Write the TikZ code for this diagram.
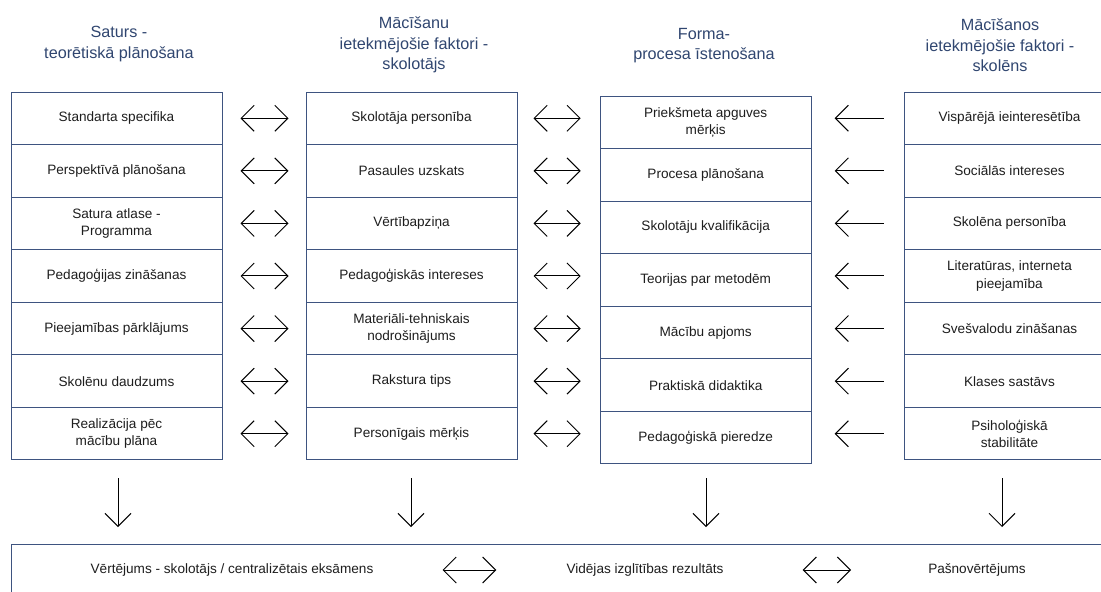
\documentclass[tikz,border=0pt]{standalone}
\usepackage{fontspec}
\setmainfont{Liberation Sans}
\usetikzlibrary{arrows.meta}
\definecolor{boxline}{RGB}{62,84,128}
\definecolor{headblue}{RGB}{48,70,112}
\definecolor{txt}{RGB}{30,30,30}
\tikzset{
  rowcell/.style={draw=boxline, line width=1pt, minimum width=211pt,
    minimum height=52.57pt, inner sep=2pt, align=center, text=txt,
    font=\fontsize{13.6}{17.5}\selectfont},
  colhead/.style={align=center, text=headblue, font=\fontsize{16.2}{20.5}\selectfont},
  basetext/.style={inner sep=0pt, text=txt, font=\fontsize{13.6}{17}\selectfont},
  barb/.tip={Straight Barb[length=13pt,width=26pt,line width=1pt]},
  bothway/.style={arrows={barb-barb}, line width=1pt},
  oneway/.style={arrows={-barb}, line width=1pt},
}
\begin{document}
\begin{tikzpicture}[x=1pt,y=-1pt]
\useasboundingbox (0,0) rectangle (1101,592);
\clip (0,0) rectangle (1101,592);
\fill[white] (0,0) rectangle (1101,592);

% column headings
\node[colhead] (h1) at (119,44) {Saturs -\\teorētiskā plānošana};
\node[colhead] (h2) at (414,45) {Mācīšanu\\ietekmējošie faktori -\\skolotājs};
\node[colhead] (h3) at (704,45.5) {Forma-\\procesa īstenošana};
\node[colhead] (h4) at (1000,45.5) {Mācīšanos\\ietekmējošie faktori -\\skolēns};

% column 1: content
\foreach \t [count=\i] in {{Standarta specifika},{Perspektīvā plānošana},
  {Satura atlase -\\Programma},{Pedagoģijas zināšanas},{Pieejamības pārklājums},
  {Skolēnu daudzums},{Realizācija pēc\\mācību plāna}}
  \node[rowcell] (a\i) at (116.5,{65.715+52.57*\i}) {\t};

% column 2: teacher factors
\foreach \t [count=\i] in {{Skolotāja personība},{Pasaules uzskats},{Vērtībapziņa},
  {Pedagoģiskās intereses},{Materiāli-tehniskais\\nodrošinājums},{Rakstura tips},
  {Personīgais mērķis}}
  \node[rowcell] (b\i) at (411.5,{65.715+52.57*\i}) {\t};

% column 3: form and process
\foreach \t [count=\i] in {{Priekšmeta apguves\\mērķis},{Procesa plānošana},
  {Skolotāju kvalifikācija},{Teorijas par metodēm},{Mācību apjoms},
  {Praktiskā didaktika},{Pedagoģiskā pieredze}}
  \node[rowcell] (c\i) at (705.7,{69.715+52.57*\i}) {\t};

% column 4: pupil factors
\foreach \t [count=\i] in {{Vispārējā ieinteresētība},{Sociālās intereses},
  {Skolēna personība},{Literatūras, interneta\\pieejamība},{Svešvalodu zināšanas},
  {Klases sastāvs},{Psiholoģiskā\\stabilitāte}}
  \node[rowcell] (d\i) at (1009.5,{65.715+52.57*\i}) {\t};

% row connectors
\foreach \i in {1,...,7} {
  \draw[bothway, shorten <=18pt, shorten >=17pt] (a\i.east) -- (b\i.west);
  \draw[bothway, shorten <=16pt, shorten >=19pt] (b\i.east) -- (b\i.east -| c\i.west);
  \draw[oneway, shorten <=20pt, shorten >=23pt] (d\i.west) -- (d\i.west -| c\i.east);
}

% results band
\node[draw=boxline, line width=1pt, minimum width=1110pt, minimum height=80pt,
  anchor=north west] (base) at (11,544) {};
\node[basetext] (r1) at (232,570) {Vērtējums - skolotājs / centralizētais eksāmens};
\node[basetext] (r2) at (645,570) {Vidējas izglītības rezultāts};
\node[basetext] (r3) at (977,570) {Pašnovērtējums};
\draw[bothway, shorten <=69pt, shorten >=70pt] (r1.east) -- (r2.west);
\draw[bothway, shorten <=79pt, shorten >=77pt] (r2.east) -- (r3.west);

% columns feeding the results
\coordinate (drop1) at ([xshift=1.5pt]a7.south);
\coordinate (drop2) at ([xshift=-0.5pt]b7.south);
\coordinate (drop3) at ([xshift=0.3pt]c7.south);
\coordinate (drop4) at ([xshift=-7.5pt]d7.south);
\foreach \k/\s in {1/18,2/18,3/14,4/18}
  \draw[oneway, shorten <=\s pt, shorten >=17pt] (drop\k) -- (drop\k |- base.north);
\end{tikzpicture}
\end{document}
